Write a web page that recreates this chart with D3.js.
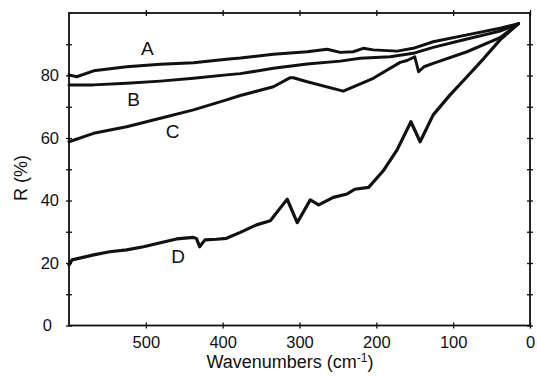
<!DOCTYPE html>
<html><head><meta charset="utf-8">
<script src="https://cdn.jsdelivr.net/npm/d3@7"></script>
<style>body{margin:0;background:#fff}svg{display:block}text{font-family:"Liberation Sans",Arial,sans-serif;fill:#111}</style>
</head><body>
<script>
const xTicks = [500, 400, 300, 200, 100, 0];
const yTicks = [0, 20, 40, 60, 80];
const yMinor = [10, 30, 50, 70, 90];

const aWn = [600, 590, 568, 525, 481, 438, 395, 377, 334, 290, 264, 247, 230, 217, 204, 173, 152, 126, 82, 39, 15];
const aR  = [80.2, 79.6, 81.5, 82.8, 83.6, 84.1, 85.2, 85.6, 86.8, 87.6, 88.4, 87.4, 87.6, 88.7, 88.2, 87.8, 88.7, 90.8, 93.0, 95.1, 96.6];

const bWn = [600, 568, 525, 481, 438, 395, 377, 334, 290, 247, 221, 182, 152, 126, 82, 39, 15];
const bR  = [77.0, 77.0, 77.5, 78.2, 79.1, 80.2, 80.6, 82.3, 83.7, 84.6, 85.5, 86.0, 87.1, 89.0, 91.7, 94.2, 96.6];

const cWn = [600, 568, 525, 481, 438, 395, 377, 334, 312, 308, 290, 243, 204, 169, 160, 150, 145, 138, 126, 82, 39, 15];
const cR  = [58.8, 61.5, 63.6, 66.3, 69.0, 72.2, 73.6, 76.4, 79.3, 79.3, 78.0, 75.0, 79.1, 84.2, 84.8, 86.0, 81.2, 82.8, 83.9, 87.6, 92.1, 96.6];

const dWn = [600, 596, 568, 547, 525, 503, 481, 460, 438, 434, 430, 423, 408, 395, 377, 356, 338, 327, 316, 303, 286, 275, 256, 238, 228, 210, 191, 173, 155, 143, 126, 104, 82, 60, 39, 15];
const dR  = [19.4, 21.0, 22.6, 23.6, 24.2, 25.2, 26.5, 27.7, 28.2, 27.8, 25.2, 27.4, 27.6, 27.9, 29.8, 32.2, 33.5, 37.0, 40.4, 32.9, 40.2, 38.6, 41.0, 42.1, 43.6, 44.2, 49.5, 56.2, 65.2, 58.8, 67.4, 73.8, 79.6, 85.5, 91.4, 96.6];

const curveNames = ["A", "B", "C", "D"];
const curveWn = [aWn, bWn, cWn, dWn];
const curveR = [aR, bR, cR, dR];
const labelWn = [498, 516, 465, 458];
const labelR = [88.5, 72.2, 62.0, 22.2];

const W = 537, H = 381;
const L = 69, R = 530, T = 13, B = 325.5;
const x = d3.scaleLinear().domain([600, 0]).range([L, R]);
const y = d3.scaleLinear().domain([0, 100]).range([B, T]);

const svg = d3.select("body").append("svg").attr("width", W).attr("height", H);
svg.append("rect").attr("width", W).attr("height", H).attr("fill", "#fff");

// axes
const gl = svg.append("g").attr("transform", `translate(${L},0)`)
  .call(d3.axisLeft(y).tickValues(yTicks).tickSize(3).tickPadding(6).tickFormat(d3.format("d")));
const glm = svg.append("g").attr("transform", `translate(${L},0)`)
  .call(d3.axisLeft(y).tickValues(yMinor).tickSize(3).tickFormat(""));
const gr = svg.append("g").attr("transform", `translate(${R},0)`)
  .call(d3.axisRight(y).tickValues(yTicks.concat(yMinor)).tickSize(3).tickFormat(""));
const gb = svg.append("g").attr("transform", `translate(0,${B})`)
  .call(d3.axisBottom(x).tickValues(xTicks).tickSize(3).tickPadding(8).tickFormat(d3.format("d")));
const gt = svg.append("g").attr("transform", `translate(0,${T})`)
  .call(d3.axisTop(x).tickValues(xTicks).tickSize(3).tickFormat(""));

[gl, glm, gr].forEach(g => g.selectAll(".tick line").attr("x1", -3).attr("x2", 3));
[gb, gt].forEach(g => g.selectAll(".tick line").attr("y1", -3).attr("y2", 3));
[gl, glm, gr, gb, gt].forEach(g => {
  g.select(".domain").remove();
  g.selectAll(".tick line").attr("stroke", "#111").attr("stroke-width", 1.3);
  g.selectAll("text").attr("font-size", 16.5).attr("fill", "#111")
    .style("font-family", '"Liberation Sans", Arial, sans-serif');
});
gb.selectAll(".tick text").attr("dy", "0.71em");
gl.selectAll(".tick text").attr("dx", -1);
gl.selectAll(".tick text").filter(d => d === 0).attr("dx", -8);

svg.append("rect").attr("x", L).attr("y", T).attr("width", R - L).attr("height", B - T)
  .attr("fill", "none").attr("stroke", "#111").attr("stroke-width", 1.8);

// curves
const line = d3.line().x(d => x(d[0])).y(d => y(d[1])).curve(d3.curveLinear);
curveNames.forEach((n, i) => {
  const pts = curveWn[i].map((w, j) => [w, curveR[i][j]]);
  svg.append("path").datum(pts).attr("d", line)
    .attr("fill", "none").attr("stroke", "#111")
    .attr("stroke-width", n === "D" ? 3.2 : 3)
    .attr("stroke-linejoin", "round").attr("stroke-linecap", "round");
  svg.append("text").attr("x", x(labelWn[i])).attr("y", y(labelR[i]))
    .attr("text-anchor", "middle").attr("dominant-baseline", "central")
    .attr("font-size", 19).text(n);
});

// axis titles
svg.append("text").attr("x", 290).attr("y", 368).attr("text-anchor", "middle")
  .attr("font-size", 18)
  .html('Wavenumbers (cm<tspan dy="-6" font-size="12">-1</tspan><tspan dy="6">)</tspan>');
svg.append("text").attr("transform", "translate(27,178) rotate(-90)")
  .attr("text-anchor", "middle").attr("font-size", 18).text("R (%)");
</script>
</body></html>
